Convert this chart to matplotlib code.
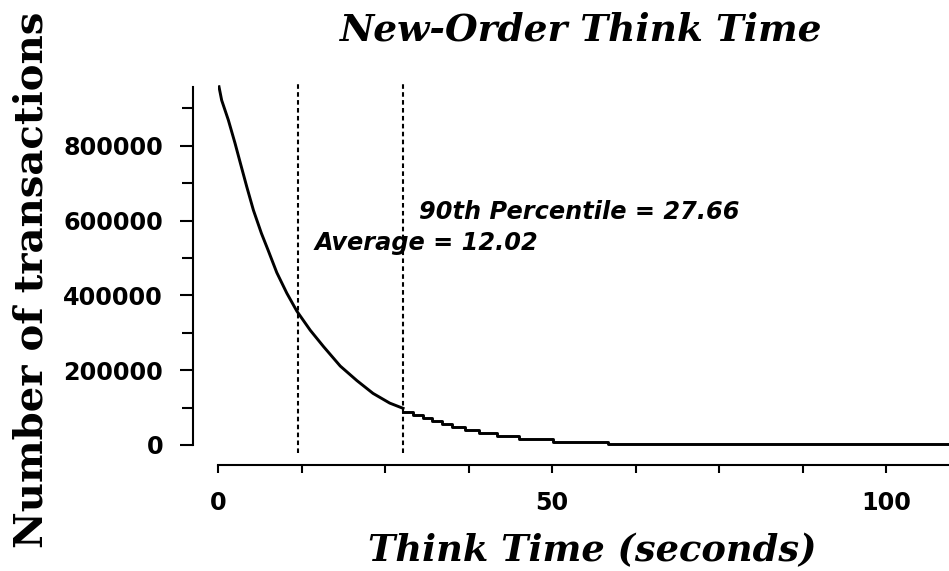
"""
New-Order think time distribution, redrawn with matplotlib.
"""

import matplotlib
matplotlib.use("Agg")
import matplotlib.pyplot as plt
from matplotlib.ticker import MultipleLocator

# smooth (steep) part of the curve
head_time = [0.15, 0.55, 1.55, 2.55, 3.3, 4.3, 5.3, 6.5, 7.5, 8.8, 10.3,
             11.8, 13.8, 15.8, 18.3, 20.8, 23.2, 25.7, 27.7]
head_count = [958000, 922000, 869000, 807000, 757000, 691000, 628000,
              566000, 521000, 461000, 406000, 358000, 307000, 263000, 211000,
              172000, 138000, 112000, 98000]

# stepped tail of the curve
tail_time = [27.7, 29.2, 30.7, 32.0, 33.5, 35.0, 37.0, 39.0, 41.7, 45.0, 50.2, 58.4, 109.4]
tail_count = [89000, 80000, 73000, 64000, 55000, 49000, 40000, 33000, 24000,
              16000, 9000, 2000, 2000]

average = 12.02
percentile_90 = 27.66

x_ticks = [0, 50, 100]
y_ticks = [0, 200000, 400000, 600000, 800000]


def make_chart(path="out.png"):
    fig = plt.figure(figsize=(9.49, 5.71), dpi=100)
    ax = fig.add_axes([0.2297, 0.2067, 0.7703, 0.6479])

    ax.plot(head_time, head_count, color="black", lw=2.1, solid_joinstyle="round")
    ax.step(tail_time, tail_count, where="post", color="black", lw=2.1)

    for xv in (average, percentile_90):
        ax.axvline(xv, color="black", lw=1.5, linestyle=(0, (2.2, 1.6)))

    note_font = dict(family="DejaVu Sans", weight="bold", style="italic", size=17.3)
    ax.text(30.1, 623000, "90th Percentile = %.2f" % percentile_90, va="center", **note_font)
    ax.text(14.5, 540000, "Average = %.2f" % average, va="center", **note_font)

    ax.set_xlim(0, 109.4)
    ax.set_ylim(-21400, 968000)

    for side in ("top", "right"):
        ax.spines[side].set_visible(False)
    ax.spines["left"].set_position(("outward", 18))
    ax.spines["bottom"].set_position(("outward", 8.6))
    ax.spines["left"].set_bounds(0, 957000)
    for side in ("left", "bottom"):
        ax.spines[side].set_linewidth(1.5)

    ax.set_xticks(x_ticks)
    ax.set_yticks(y_ticks)
    ax.xaxis.set_minor_locator(MultipleLocator(12.5))
    ax.yaxis.set_minor_locator(MultipleLocator(100000))
    ax.tick_params(axis="y", which="major", length=9.5, width=1.5, pad=12)
    ax.tick_params(axis="y", which="minor", length=8, width=1.5)
    ax.tick_params(axis="x", which="both", length=6, width=1.5, pad=13)

    tick_font = dict(family="DejaVu Sans", weight="bold", size=17.2)
    ax.set_xticklabels([str(v) for v in x_ticks], **tick_font)
    ax.set_yticklabels([str(v) for v in y_ticks], **tick_font)

    fig.text(0.612, 0.947, "New-Order Think Time", ha="center", va="center",
             family="DejaVu Serif", weight="bold", style="italic", size=27)
    fig.text(0.624, 0.034, "Think Time (seconds)", ha="center", va="center",
             family="DejaVu Serif", weight="bold", style="italic", size=26.5)
    fig.text(0.033, 0.51, "Number of transactions", ha="center", va="center",
             rotation=90, family="DejaVu Serif", weight="bold", size=29)

    fig.savefig(path, dpi=100)


if __name__ == "__main__":
    make_chart()
